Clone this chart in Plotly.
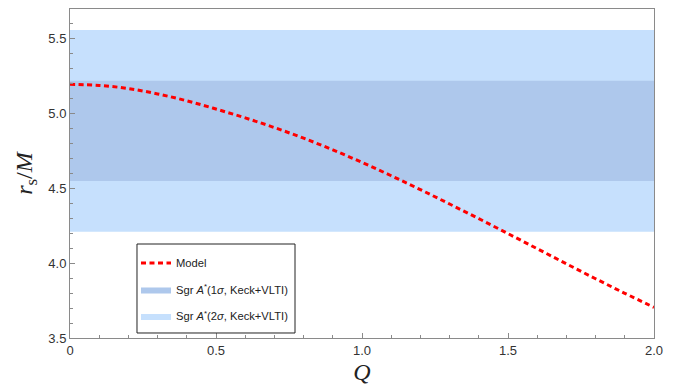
import plotly.graph_objects as go

# Model curve: shadow radius r_s/M against the charge parameter Q
q_vals = [0.0, 0.1, 0.2, 0.3, 0.4, 0.5, 0.6, 0.7, 0.8, 0.9, 1.0,
          1.1, 1.2, 1.3, 1.4, 1.5, 1.6, 1.7, 1.8, 1.9, 2.0]
rs_vals = [5.196, 5.189, 5.168, 5.132, 5.086, 5.031, 4.972, 4.907, 4.836, 4.758, 4.674,
           4.585, 4.492, 4.396, 4.298, 4.198, 4.097, 3.996, 3.896, 3.799, 3.705]

# Sgr A* bounds (Keck + VLTI)
sigma1 = [4.55, 5.22]
sigma2 = [4.21, 5.56]

q_range = [0.0, 2.0]
rs_range = [3.5, 5.7]

x_ticks = [0.0, 0.5, 1.0, 1.5, 2.0]
x_ticktext = ["0", "0.5", "1.0", "1.5", "2.0"]
y_ticks = [3.5, 4.0, 4.5, 5.0, 5.5]
y_ticktext = ["3.5", "4.0", "4.5", "5.0", "5.5"]

names = ["Model",
         "Sgr <i>A</i><sup>*</sup>(1<i>σ</i>, Keck+VLTI)",
         "Sgr <i>A</i><sup>*</sup>(2<i>σ</i>, Keck+VLTI)"]

c_2s = "#c6e0fd"
c_1s = "#aec8ec"
axis_grey = "#8a8a8a"

fig = go.Figure()


def band(lo_hi, color, name, rank):
    lo, hi = lo_hi
    return go.Scatter(
        x=[q_range[0], q_range[1], q_range[1], q_range[0], q_range[0]],
        y=[lo, lo, hi, hi, lo],
        mode="lines", fill="toself", fillcolor=color,
        line=dict(width=0, color=color),
        name=name, legendgroup=name, legendrank=rank,
        hoverinfo="skip",
    )


fig.add_trace(band(sigma2, c_2s, names[2], 3))
fig.add_trace(band(sigma1, c_1s, names[1], 2))
fig.add_trace(go.Scatter(
    x=q_vals, y=rs_vals, mode="lines", name=names[0],
    legendgroup=names[0], legendrank=1,
    line=dict(color="#ff0000", width=3, dash="5px,3.5px", shape="spline"),
))

tick_font = dict(family="Liberation Sans, Arial, sans-serif", size=13, color="#333333")
title_font = dict(family="Liberation Serif, Times New Roman, serif", size=24, color="#222222")

fig.update_xaxes(
    range=q_range, showgrid=False, zeroline=False,
    showline=True, linecolor=axis_grey, linewidth=1, mirror=True,
    tickmode="array", tickvals=x_ticks, ticktext=x_ticktext,
    ticks="inside", ticklen=5, tickcolor=axis_grey, tickwidth=1,
    minor=dict(tickmode="linear", tick0=0, dtick=0.1, ticks="inside",
               ticklen=3, tickcolor=axis_grey, tickwidth=1),
    tickfont=tick_font,
    title=dict(text="<i>Q</i>", font=title_font, standoff=6),
)
fig.update_yaxes(
    range=rs_range, showgrid=False, zeroline=False,
    showline=True, linecolor=axis_grey, linewidth=1, mirror=True,
    tickmode="array", tickvals=y_ticks, ticktext=y_ticktext,
    ticks="inside", ticklen=5, tickcolor=axis_grey, tickwidth=1,
    minor=dict(tickmode="linear", tick0=3.5, dtick=0.1, ticks="inside",
               ticklen=3, tickcolor=axis_grey, tickwidth=1),
    tickfont=tick_font,
    title=dict(text="<i>r</i><sub>s</sub>/<i>M</i>", font=title_font, standoff=8),
)

# Legend frame, drawn as a white box in paper coordinates
fig.add_shape(
    type="rect", xref="paper", yref="paper", layer="above",
    x0=0.1147, x1=0.3853, y0=0.0152, y1=0.2857,
    line=dict(color="#222222", width=1), fillcolor="white",
)

fig.update_layout(
    width=678, height=389,
    margin=dict(l=70, r=24, t=9, b=51),
    paper_bgcolor="white", plot_bgcolor="white",
    showlegend=True,
    legend=dict(
        x=0.113, y=0.272, xanchor="left", yanchor="top",
        bgcolor="rgba(0,0,0,0)", borderwidth=0,
        font=dict(family="Liberation Sans, Arial, sans-serif", size=11.2, color="#222222"),
        tracegroupgap=7.5, itemwidth=30, traceorder="grouped",
    ),
)

fig.write_html("out.html")
